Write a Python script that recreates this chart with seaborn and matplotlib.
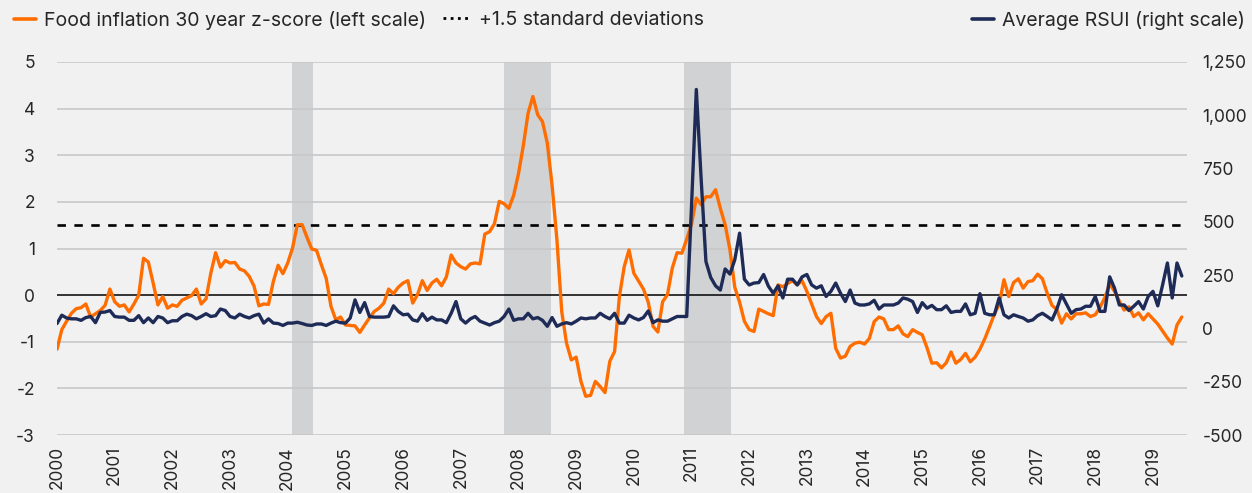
import numpy as np
import pandas as pd
import matplotlib.pyplot as plt
import matplotlib.ticker as mticker
from matplotlib.lines import Line2D
import seaborn as sns

# monthly values, January 2000 to July 2019
food_z = [
    -1.16, -0.74, -0.56, -0.39, -0.29, -0.27, -0.19, -0.47, -0.40, -0.33, -0.22, 0.13,
    -0.14, -0.24, -0.21, -0.36, -0.19, 0.00, 0.79, 0.71, 0.26, -0.21, -0.03, -0.28,
    -0.21, -0.24, -0.11, -0.06, -0.01, 0.13, -0.19, -0.08, 0.47, 0.91, 0.60, 0.74,
    0.69, 0.70, 0.56, 0.52, 0.40, 0.19, -0.23, -0.19, -0.20, 0.29, 0.64, 0.46,
    0.69, 1.01, 1.51, 1.51, 1.24, 0.99, 0.96, 0.65, 0.36, -0.24, -0.53, -0.47,
    -0.64, -0.65, -0.66, -0.80, -0.64, -0.49, -0.35, -0.28, -0.17, 0.13, 0.03, 0.17,
    0.26, 0.31, -0.17, 0.01, 0.31, 0.10, 0.26, 0.34, 0.20, 0.39, 0.86, 0.69,
    0.61, 0.56, 0.67, 0.69, 0.67, 1.31, 1.36, 1.53, 2.01, 1.96, 1.86, 2.14,
    2.60, 3.20, 3.90, 4.26, 3.87, 3.72, 3.26, 2.35, 1.19, -0.35, -1.03, -1.39,
    -1.33, -1.85, -2.17, -2.15, -1.85, -1.96, -2.09, -1.42, -1.21, -0.03, 0.61, 0.97,
    0.47, 0.30, 0.13, -0.15, -0.67, -0.79, -0.14, 0.01, 0.58, 0.91, 0.90, 1.20,
    1.52, 2.08, 1.94, 2.11, 2.11, 2.26, 1.86, 1.51, 0.97, 0.17, -0.15, -0.56,
    -0.74, -0.78, -0.30, -0.35, -0.40, -0.44, 0.22, 0.18, 0.25, 0.31, 0.22, 0.31,
    0.08, -0.19, -0.46, -0.61, -0.46, -0.39, -1.14, -1.35, -1.31, -1.10, -1.03, -1.01,
    -1.05, -0.93, -0.57, -0.47, -0.51, -0.74, -0.74, -0.66, -0.83, -0.89, -0.74, -0.80,
    -0.85, -1.13, -1.46, -1.45, -1.56, -1.45, -1.22, -1.46, -1.38, -1.25, -1.43, -1.33,
    -1.16, -0.94, -0.68, -0.41, -0.20, 0.33, -0.03, 0.27, 0.35, 0.15, 0.29, 0.31,
    0.45, 0.35, 0.04, -0.22, -0.31, -0.60, -0.40, -0.51, -0.40, -0.40, -0.38, -0.46,
    -0.42, -0.26, -0.05, 0.24, 0.08, -0.13, -0.32, -0.25, -0.46, -0.38, -0.53, -0.40,
    -0.51, -0.62, -0.77, -0.92, -1.05, -0.64, -0.47,
]

rsui = [
    23, 62, 49, 45, 45, 38, 51, 56, 27, 75, 77, 84,
    56, 53, 53, 38, 38, 60, 27, 49, 27, 56, 49, 27,
    36, 36, 56, 67, 60, 45, 56, 69, 56, 60, 91, 84,
    56, 49, 67, 56, 49, 60, 67, 25, 45, 25, 23, 14,
    25, 25, 29, 23, 16, 14, 21, 21, 14, 25, 34, 27,
    25, 49, 134, 75, 121, 56, 53, 53, 53, 56, 106, 80,
    64, 67, 40, 34, 69, 38, 53, 40, 40, 27, 71, 126,
    45, 25, 45, 56, 34, 25, 16, 27, 34, 56, 91, 38,
    45, 45, 71, 45, 51, 38, 10, 51, 10, 21, 27, 21,
    34, 49, 45, 49, 49, 71, 56, 45, 71, 25, 25, 62,
    49, 40, 51, 82, 27, 40, 34, 34, 45, 56, 56, 56,
    572, 1121, 703, 314, 239, 200, 180, 279, 255, 322, 447, 231,
    204, 213, 215, 253, 198, 165, 200, 143, 231, 231, 204, 242,
    253, 204, 189, 200, 150, 174, 213, 165, 126, 180, 119, 110,
    110, 115, 132, 91, 110, 110, 110, 119, 143, 137, 126, 75,
    121, 95, 108, 88, 88, 106, 75, 80, 80, 115, 64, 71,
    163, 71, 64, 64, 143, 64, 49, 64, 56, 49, 34, 40,
    60, 71, 56, 40, 91, 158, 115, 71, 88, 91, 104, 104,
    150, 80, 80, 242, 189, 110, 110, 84, 104, 126, 91, 150,
    174, 106, 204, 307, 143, 307, 246,
]

shaded = [(2004.07, 2004.44), (2007.75, 2008.56), (2010.87, 2011.68)]
years = list(range(2000, 2020))
left_ticks = [-3, -2, -1, 0, 1, 2, 3, 4, 5]
right_ticks = [-500, -250, 0, 250, 500, 750, 1000, 1250]

df = pd.DataFrame({"food_z": food_z, "rsui": rsui})
df["year"] = 2000 + np.arange(len(df)) / 12

bg = "#f1f1f1"
orange = "#ff6d00"
navy = "#1e2b57"

sns.set_style("white", {"axes.facecolor": bg, "figure.facecolor": bg})
plt.rcParams["font.family"] = ["Inter", "DejaVu Sans"]
plt.rcParams["axes.unicode_minus"] = False

fig = plt.figure(figsize=(12.52, 4.93), dpi=100)
ax = fig.add_axes([57 / 1252, 1 - 435 / 493, 1130 / 1252, 373 / 493])
ax2 = ax.twinx()

for a, b in shaded:
    ax.axvspan(a, b, color="#d1d2d4", lw=0, zorder=0)
for v in left_ticks:
    if v != 0:
        ax.axhline(v, color="#c8c8c8", lw=1.2, zorder=1)
ax.axhline(0, color="black", lw=1.1, zorder=2)
ax.axhline(1.5, color="black", lw=1.9, ls=(0, (3.2, 3.2)), zorder=2)

sns.lineplot(data=df, x="year", y="food_z", ax=ax, color=orange, lw=2.4, zorder=3)
sns.lineplot(data=df, x="year", y="rsui", ax=ax2, color=navy, lw=2.4)

ax.set_xlim(2000, 2019.59)
ax.set_ylim(-3, 5)
ax2.set_ylim(-500, 1250)
ax.set_yticks(left_ticks)
ax2.set_yticks(right_ticks)
ax2.yaxis.set_major_formatter(mticker.StrMethodFormatter("{x:,.0f}"))
ax.set_xticks(years)
ax.set_xticklabels([str(y) for y in years], rotation=90)

ax.set_xlabel("")
ax.set_ylabel("")
ax2.set_ylabel("")
ax.tick_params(axis="y", length=0, labelsize=12.5, pad=16)
ax.tick_params(axis="x", length=0, labelsize=12.5, pad=8)
ax2.tick_params(axis="y", length=0, labelsize=12.5, pad=11)
for a in (ax, ax2):
    for s in a.spines.values():
        s.set_visible(False)

# legend entries along the top
leg_y = 1 - 20 / 493
items = [
    (14, Line2D([], [], color=orange, lw=2.6), "Food inflation 30 year z-score (left scale)", 1.15),
    (443, Line2D([], [], color="black", lw=2, ls=(0, (1, 1.6))), "+1.5 standard deviations", 1.45),
    (972, Line2D([], [], color=navy, lw=2.6), "Average RSUI (right scale)", 1.15),
]
for x0, h, label, hl in items:
    fig.legend([h], [label], loc="center left", bbox_to_anchor=(x0 / 1252, leg_y),
               frameon=False, fontsize=14, borderpad=0, borderaxespad=0,
               handlelength=hl, handletextpad=0.4)

plt.savefig("out.png", dpi=100, facecolor=bg)
